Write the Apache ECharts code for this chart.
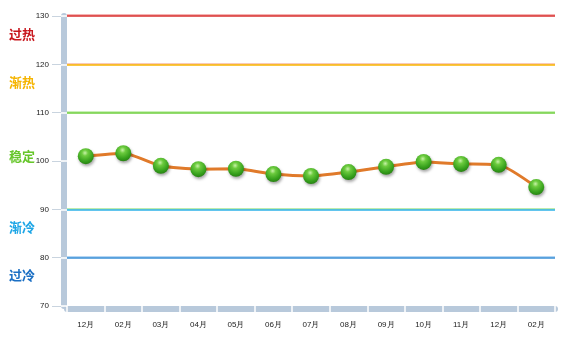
<!DOCTYPE html>
<html><head><meta charset="utf-8">
<script src="https://cdn.jsdelivr.net/npm/echarts@6/dist/echarts.min.js"></script>
<style>html,body{margin:0;padding:0;background:#fff}#c{width:567px;height:353px}</style>
</head><body><div id="c"></div>
<script>
var categories = ['12月','02月','03月','04月','05月','06月','07月','08月','09月','10月','11月','12月','02月'];
var values = [101.0, 101.6, 99.0, 98.3, 98.4, 97.3, 96.9, 97.7, 98.8, 99.8, 99.4, 99.2, 94.6];
var thresholdValues = [130, 120, 110, 90, 80];
var thresholdColors = ['#d9302f', '#f8b400', '#6fcf3f', '#2eb2e8', '#3a8fd6'];
var thresholdTops = ['#f29a9a', '#f7b8a2', '#b8eca0', '#a8e694', '#9cc9ef'];
var zoneNames = ['过热', '渐热', '稳定', '渐冷', '过冷'];
var zoneValues = [126.3, 116.3, 101.0, 86.3, 76.3];
var zoneColors = ['#c8161d', '#f5b400', '#66c62a', '#1ea6e6', '#1b6fc4'];

var chart = echarts.init(document.getElementById('c'));
var markLines = thresholdValues.map(function (v, i) {
  return { yAxis: v, lineStyle: { color: thresholdColors[i], width: 1.5, type: 'solid',
    shadowColor: thresholdTops[i], shadowOffsetY: -1, shadowBlur: 0 }, label: { show: false } };
});
var zoneLines = zoneValues.map(function (v, i) {
  return { yAxis: v, lineStyle: { color: 'rgba(0,0,0,0)', width: 0 },
    label: { show: true, position: 'start', distance: 32, formatter: zoneNames[i],
      color: zoneColors[i], fontSize: 13, fontWeight: 'bold', fontFamily: 'Noto Sans CJK SC' } };
});
var axisCommon = { type: 'value', min: 70, max: 130, interval: 10 };
chart.setOption({
  animation: false,
  grid: { left: 67, right: 12, top: 16, bottom: 47 },
  xAxis: [{
    type: 'category', data: categories, offset: 3, boundaryGap: true,
    axisLine: { lineStyle: { color: '#b8c9db', width: 6 } },
    axisTick: { show: false },
    axisLabel: { margin: 12, fontSize: 8, color: '#222', fontFamily: 'Arial' },
    splitLine: { show: false }
  }, {
    type: 'category', data: categories, position: 'bottom', offset: 6, boundaryGap: true,
    axisLine: { show: false },
    axisTick: { show: true, inside: true, length: 6, lineStyle: { color: '#ffffff', width: 1.5 } },
    axisLabel: { show: false }, splitLine: { show: false }
  }],
  yAxis: [Object.assign({}, axisCommon, {
    offset: 3,
    axisLine: { show: true, lineStyle: { color: '#b8c9db', width: 6 } },
    axisTick: { show: true, length: 12, lineStyle: { color: '#c9d4df', width: 1 } },
    axisLabel: { margin: 15, fontSize: 8, color: '#222', fontFamily: 'Arial' },
    splitLine: { show: false }
  }), Object.assign({}, axisCommon, {
    position: 'left', offset: 6,
    axisLine: { show: false },
    axisTick: { show: true, inside: true, length: 6, lineStyle: { color: '#ffffff', width: 1.5 } },
    axisLabel: { show: false }, splitLine: { show: false }
  })],
  series: [{
    type: 'line', data: values, smooth: 0.2, z: 5, clip: false,
    lineStyle: { color: '#e07a2a', width: 3 },
    symbol: 'circle', symbolSize: 16,
    itemStyle: {
      color: new echarts.graphic.RadialGradient(0.45, 0.3, 0.75, [
        { offset: 0, color: '#c8f2a8' },
        { offset: 0.25, color: '#6ccb3e' },
        { offset: 0.7, color: '#36a01c' },
        { offset: 1, color: '#247a10' }
      ]),
      borderWidth: 0,
      shadowColor: 'rgba(0,0,0,0.35)', shadowBlur: 3, shadowOffsetX: 1, shadowOffsetY: 2
    },
    markLine: { silent: true, symbol: 'none', animation: false, data: markLines.concat(zoneLines) }
  }]
});
</script></body></html>
